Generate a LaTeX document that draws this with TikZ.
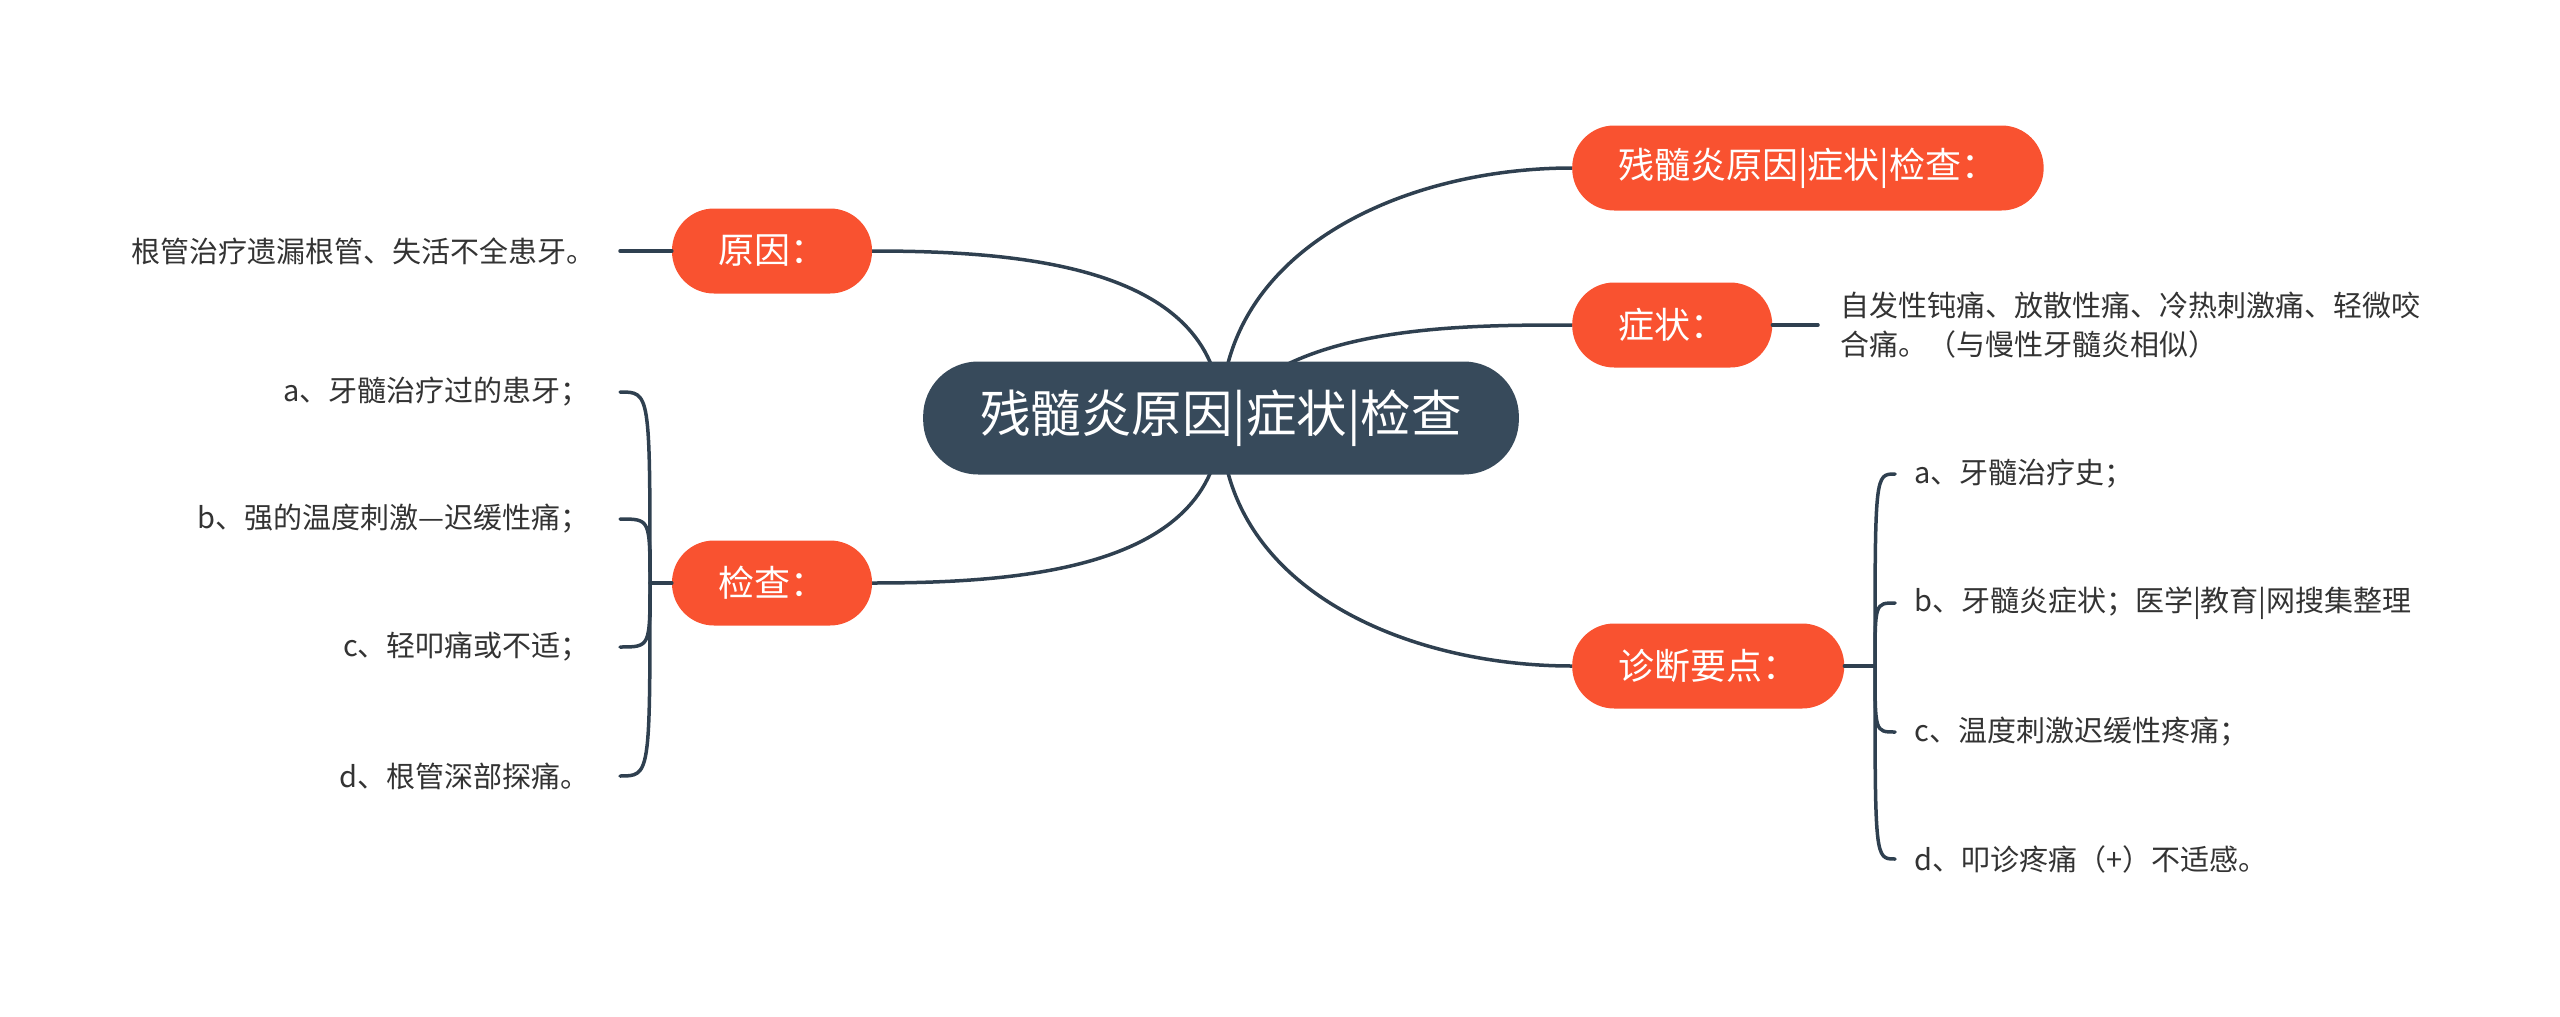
\documentclass[tikz,border=0pt]{standalone}
\usepackage{fontspec}
\setmainfont{Noto Sans CJK SC}
\usetikzlibrary{backgrounds}
\definecolor{topicorange}{HTML}{F95230}
\definecolor{rootslate}{HTML}{374A5B}
\definecolor{linkslate}{HTML}{2F4050}
\definecolor{leafgray}{HTML}{333333}

\begin{document}
\begin{tikzpicture}[x=1pt,y=-1pt,
	root/.style={fill=rootslate,text=white,rounded corners=55pt,inner xsep=57pt,minimum height=113pt,font=\fontsize{50.5}{60}\selectfont},
	topic/.style={fill=topicorange,text=white,rounded corners=42pt,inner xsep=46pt,minimum height=85pt,font=\fontsize{36}{42}\selectfont},
	leaf/.style={text=leafgray,inner ysep=0pt,font=\fontsize{29}{39}\selectfont},
	link/.style={draw=linkslate,line width=3.5pt,line cap=round}]
	\useasboundingbox (0,0) rectangle (2560,1017);
	\node[root] (root) at (1221,418) {残髓炎原因|症状|检查};
	\node[topic,anchor=west] (title) at (1572,168) {残髓炎原因|症状|检查：};
	\node[topic,anchor=west] (sympt) at (1572,325) {症状：};
	\node[topic,anchor=west] (diag) at (1572,666) {诊断要点：};
	\node[topic] (cause) at (772,251) {原因：};
	\node[topic] (exam) at (772,583) {检查：};
	\node[leaf,anchor=east,inner xsep=24pt] (causeleaf) at (620,251) {根管治疗遗漏根管、失活不全患牙。};
	\node[leaf,anchor=west,inner xsep=22pt,align=left] (symptleaf) at (1818,325) {自发性钝痛、放散性痛、冷热刺激痛、轻微咬\\合痛。（与慢性牙髓炎相似）};
	\node[leaf,anchor=east,inner xsep=30pt] (exama) at (620,392) {a、牙髓治疗过的患牙；};
	\node[leaf,anchor=east,inner xsep=30pt] (examb) at (620,519) {b、强的温度刺激—迟缓性痛；};
	\node[leaf,anchor=east,inner xsep=30pt] (examc) at (620,647) {c、轻叩痛或不适；};
	\node[leaf,anchor=east,inner xsep=30pt] (examd) at (620,776) {d、根管深部探痛。};
	\node[leaf,anchor=west,inner xsep=19pt] (diaga) at (1895,474) {a、牙髓治疗史；};
	\node[leaf,anchor=west,inner xsep=19pt] (diagb) at (1895,603) {b、牙髓炎症状；医学|教育|网搜集整理};
	\node[leaf,anchor=west,inner xsep=19pt] (diagc) at (1895,732) {c、温度刺激迟缓性疼痛；};
	\node[leaf,anchor=west,inner xsep=19pt] (diagd) at (1895,859) {d、叩诊疼痛（+）不适感。};
	\coordinate (examjoin) at (650,583);
	\coordinate (diagjoin) at (1875,666);
	\begin{scope}[on background layer]
		\draw[link] (root.center) to[out=90,in=180] (title.west);
		\draw[link] (root.center) to[out=55,in=180,looseness=0.8] (sympt.west);
		\draw[link] (root.center) to[out=-90,in=180] (diag.west);
		\draw[link] (root.center) to[out=90,in=0] (cause.east);
		\draw[link] (root.center) to[out=-90,in=0] (exam.east);
	\end{scope}
	\draw[link] (cause.west) -- (causeleaf.east);
	\draw[link] (sympt.east) -- (symptleaf.west);
	\draw[link] (exam.west) -- (examjoin);
	\draw[link] (examjoin) .. controls (examjoin |- exama.east) and (examjoin |- exama.east) .. (exama.east);
	\draw[link] (examjoin) .. controls (examjoin |- examb.east) and (examjoin |- examb.east) .. (examb.east);
	\draw[link] (examjoin) .. controls (examjoin |- examc.east) and (examjoin |- examc.east) .. (examc.east);
	\draw[link] (examjoin) .. controls (examjoin |- examd.east) and (examjoin |- examd.east) .. (examd.east);
	\draw[link] (diag.east) -- (diagjoin);
	\draw[link] (diagjoin) .. controls (diagjoin |- diaga.west) and (diagjoin |- diaga.west) .. (diaga.west);
	\draw[link] (diagjoin) .. controls (diagjoin |- diagb.west) and (diagjoin |- diagb.west) .. (diagb.west);
	\draw[link] (diagjoin) .. controls (diagjoin |- diagc.west) and (diagjoin |- diagc.west) .. (diagc.west);
	\draw[link] (diagjoin) .. controls (diagjoin |- diagd.west) and (diagjoin |- diagd.west) .. (diagd.west);
\end{tikzpicture}
\end{document}
